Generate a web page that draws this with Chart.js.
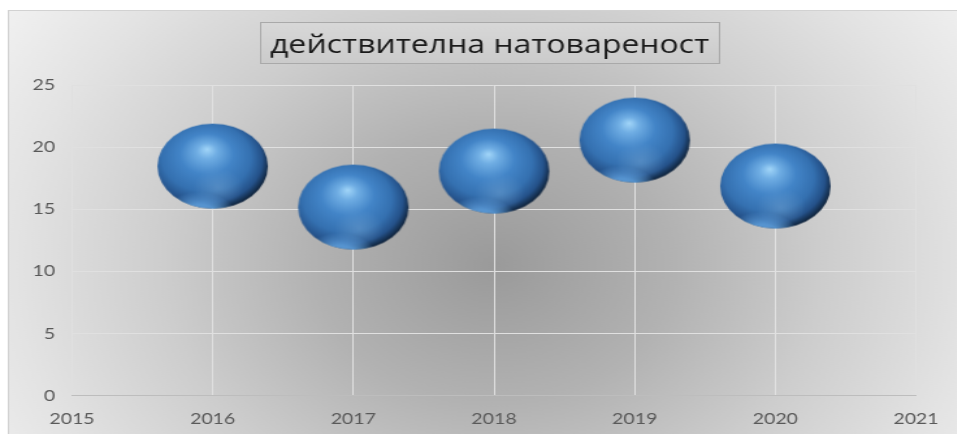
<!DOCTYPE html>
<html lang="bg">
<head>
  <meta charset="UTF-8" />
  <title>действителна натовареност</title>
  <style>
    html, body {
      margin: 0;
      padding: 0;
      background: #ffffff;
      overflow: hidden;
    }
    /* Excel stretched the chart sideways, so the chart is drawn narrow and widened */
    #wrap {
      width: 736px;
      height: 434px;
      transform: scaleX(1.3);
      transform-origin: 0 0;
    }
  </style>
</head>
<body>
  <div id="wrap">
    <canvas id="chart" width="736" height="434"></canvas>
  </div>

  <script src="https://cdn.jsdelivr.net/npm/chart.js"></script>
  <script>
    const titleText = "действителна натовареност";
    const years = [2016, 2017, 2018, 2019, 2020];
    const load = [18.5, 15.2, 18.1, 20.6, 16.9];
    const xTickLabels = ["2015", "2016", "2017", "2018", "2019", "2020", "2021"];
    const yTickLabels = ["0", "5", "10", "15", "20", "25"];

    const BUBBLE_R = 42.5;

    // 3D sphere look of the Excel bubbles
    function makeSphere(r) {
      const s = Math.ceil(r * 2) + 2;
      const c = document.createElement("canvas");
      c.width = s;
      c.height = s;
      const g = c.getContext("2d");
      const cx = s / 2, cy = s / 2;

      g.beginPath();
      g.arc(cx, cy, r, 0, Math.PI * 2);
      g.closePath();
      const body = g.createRadialGradient(cx - 0.1 * r, cy - 0.4 * r, 0, cx - 0.12 * r, cy - 0.12 * r, 1.15 * r);
      body.addColorStop(0, "#a2d6f9");
      body.addColorStop(0.16, "#70aee4");
      body.addColorStop(0.42, "#4385c8");
      body.addColorStop(0.7, "#3571b1");
      body.addColorStop(0.88, "#25528a");
      body.addColorStop(1, "#11263f");
      g.fillStyle = body;
      g.fill();

      g.save();
      g.clip();
      const low = g.createRadialGradient(cx + 0.1 * r, cy + 0.5 * r, 0, cx + 0.1 * r, cy + 0.5 * r, 0.45 * r);
      low.addColorStop(0, "rgba(125,172,215,0.4)");
      low.addColorStop(1, "rgba(125,172,215,0)");
      g.fillStyle = low;
      g.fillRect(0, 0, s, s);

      const rx = cx - 0.25 * r, ry = cy + 1.35 * r;
      const rim = g.createRadialGradient(rx, ry, 0, rx, ry, 0.75 * r);
      rim.addColorStop(0, "rgba(100,168,232,0.95)");
      rim.addColorStop(0.6, "rgba(100,168,232,0.8)");
      rim.addColorStop(1, "rgba(100,168,232,0)");
      g.fillStyle = rim;
      g.fillRect(0, 0, s, s);
      g.restore();
      return c;
    }

    const sphere = makeSphere(BUBBLE_R);

    // grey radial backdrop, panel frame and the boxed title
    const panel = {
      id: "panel",
      beforeDraw(chart) {
        const ctx = chart.ctx;
        const w = chart.width, h = chart.height;
        ctx.save();
        ctx.fillStyle = "#ffffff";
        ctx.fillRect(0, 0, w, h);

        const bg = ctx.createRadialGradient(380, 265, 0, 380, 265, 460);
        bg.addColorStop(0, "#9a9a9a");
        bg.addColorStop(0.3, "#b2b2b2");
        bg.addColorStop(0.55, "#cdcdcd");
        bg.addColorStop(0.8, "#e3e3e3");
        bg.addColorStop(1, "#f2f2f2");
        ctx.fillStyle = bg;
        ctx.fillRect(6, 10, w - 6, h - 10);
        ctx.strokeStyle = "#d2d2d2";
        ctx.lineWidth = 1;
        ctx.strokeRect(6.5, 10.5, w, h);

        const cx = (chart.chartArea.left + chart.chartArea.right) / 2 - 3.4;
        ctx.font = '24.6px "Open Sans"';
        const tw = ctx.measureText(titleText).width;
        const bx = Math.round(cx - tw / 2 - 7.5) + 0.5;
        const bw = Math.round(tw + 15);
        const box = ctx.createLinearGradient(0, 22, 0, 63);
        box.addColorStop(0, "#d8d8d8");
        box.addColorStop(1, "#cbcbcb");
        ctx.fillStyle = box;
        ctx.fillRect(bx, 22.5, bw, 41);
        ctx.strokeStyle = "#a9a9a9";
        ctx.strokeRect(bx, 22.5, bw, 41);
        ctx.fillStyle = "#1a1a1a";
        ctx.textAlign = "center";
        ctx.textBaseline = "alphabetic";
        ctx.fillText(titleText, cx, 53);
        ctx.restore();
      }
    };

    const ctx = document.getElementById("chart").getContext("2d");
    const chart = new Chart(ctx, {
      type: "bubble",
      data: {
        datasets: [{
          label: titleText,
          data: years.map((y, i) => ({ x: y, y: load[i] })),
          radius: BUBBLE_R,
          pointStyle: sphere,
          backgroundColor: "#4385c8",
          borderWidth: 0,
          clip: false
        }]
      },
      options: {
        responsive: false,
        animation: false,
        events: [],
        layout: {
          autoPadding: false,
          padding: { top: 85.5, right: 31, left: 0, bottom: 5.3 }
        },
        plugins: {
          legend: { display: false },
          title: { display: false },
          tooltip: { enabled: false }
        },
        scales: {
          x: {
            type: "linear",
            min: 2015,
            max: 2021,
            afterFit: (scale) => { scale.height = 33; },
            ticks: {
              stepSize: 1,
              padding: 14,
              maxRotation: 0,
              color: "#595959",
              font: { family: "Lato", size: 15 },
              callback: (v) => xTickLabels[v - 2015]
            },
            grid: { color: "#e0e0e0", drawTicks: false },
            border: { color: "#bdbdbd" }
          },
          y: {
            min: 0,
            max: 25,
            afterFit: (scale) => { scale.width = 55.4; },
            ticks: {
              stepSize: 5,
              padding: 13,
              color: "#595959",
              font: { family: "Lato", size: 15 },
              callback: (v) => yTickLabels[v / 5]
            },
            grid: { color: "#e0e0e0", drawTicks: false },
            border: { display: false }
          }
        }
      },
      plugins: [panel]
    });
  </script>
</body>
</html>
